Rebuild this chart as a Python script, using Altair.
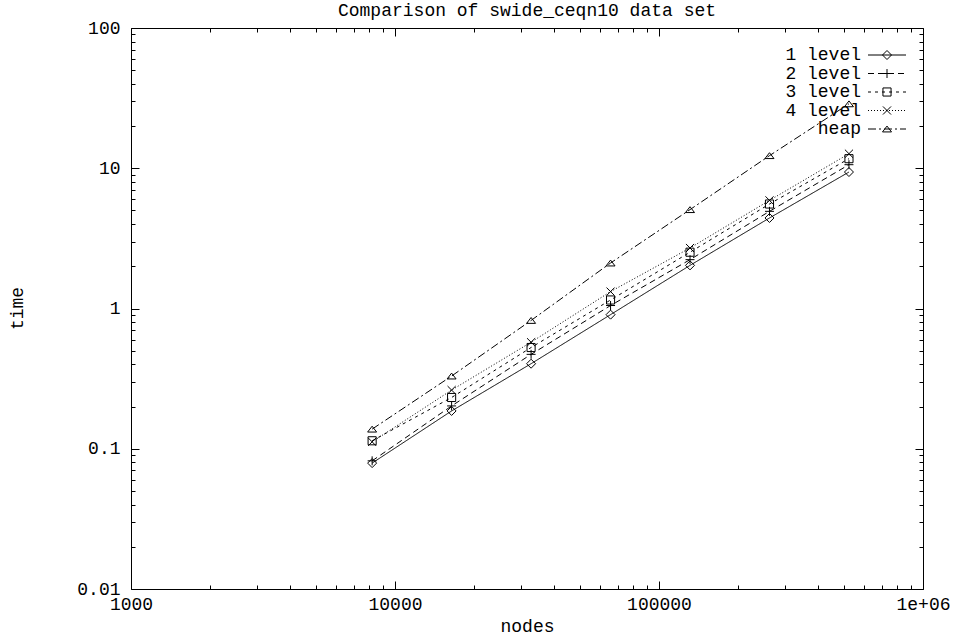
import altair as alt
import pandas as pd

# ---------------- data ----------------
nodes = [8192, 16384, 32768, 65536, 131072, 262144, 524288]
level1 = [0.079, 0.186, 0.404, 0.904, 2.03, 4.42, 9.40]
level2 = [0.082, 0.202, 0.471, 1.05, 2.23, 4.93, 10.6]
level3 = [0.114, 0.232, 0.527, 1.15, 2.52, 5.56, 11.7]
level4 = [0.112, 0.262, 0.575, 1.32, 2.70, 5.90, 12.7]
heap = [0.138, 0.330, 0.822, 2.11, 5.07, 12.3, 28.8]

series_names = ["1 level", "2 level", "3 level", "4 level", "heap"]
series_values = [level1, level2, level3, level4, heap]

x_major = [1000, 10000, 100000, 1000000]
y_major = [0.01, 0.1, 1, 10, 100]
x_minor = [k * 10 ** e for e in (3, 4, 5) for k in range(2, 10)]
y_minor = [k * 10.0 ** e for e in (-2, -1, 0, 1) for k in range(2, 10)]

rows = []
for name, vals in zip(series_names, series_values):
    for n, t in zip(nodes, vals):
        rows.append({"series": name, "nodes": n, "time": t})
df = pd.DataFrame(rows)
legend_df = pd.DataFrame({"series": series_names})

# ---------------- styles ----------------
FONT = "Liberation Mono"
FS = 18
dash_range = [[1, 0], [6, 4], [3, 4], [1, 2], [8, 3, 2, 3]]
shape_range = [
    "M0,-1L1,0L0,1L-1,0Z",
    "M-1,0L1,0M0,-1L0,1",
    "M-0.9,-0.9L0.9,-0.9L0.9,0.9L-0.9,0.9Z",
    "M-0.9,-0.9L0.9,0.9M-0.9,0.9L0.9,-0.9",
    "M0,-0.65L1,0.65L-1,0.65Z",
]
dash_scale = alt.Scale(domain=series_names, range=dash_range)
shape_scale = alt.Scale(domain=series_names, range=shape_range)


def xenc(axis):
    return alt.X("nodes:Q", scale=alt.Scale(type="log", domain=[1000, 1000000], nice=False), axis=axis)


def yenc(axis):
    return alt.Y("time:Q", scale=alt.Scale(type="log", domain=[0.01, 100], nice=False), axis=axis)


def tick_axis(orient, size, values):
    return alt.Axis(orient=orient, values=values, offset=-size, tickSize=size, ticks=True,
                    labels=False, domain=False, grid=False, title=None,
                    tickColor="black", tickWidth=1)


x_label_axis = alt.Axis(
    orient="bottom", values=x_major, ticks=False, tickSize=0, domain=False, grid=False,
    labelExpr="datum.value >= 1000000 ? '1e+06' : format(datum.value, 'd')",
    labelFont=FONT, labelFontSize=FS, labelColor="black", labelPadding=6,
    labelFlush=False, labelOverlap=False,
    title="nodes", titleFont=FONT, titleFontSize=FS, titleFontWeight="normal",
    titleColor="black", titleY=37, titleBaseline="middle",
)
y_label_axis = alt.Axis(
    orient="left", values=y_major, ticks=False, tickSize=0, domain=False, grid=False,
    labelExpr="format(datum.value, '~g')",
    labelFont=FONT, labelFontSize=FS, labelColor="black", labelPadding=11,
    labelFlush=False, labelOverlap=False,
    title="time", titleFont=FONT, titleFontSize=FS, titleFontWeight="normal",
    titleColor="black", titleX=-114, titleY=280, titleAngle=270,
    titleBaseline="middle", titleAlign="center",
)

base = alt.Chart(df)

lines = base.mark_line(color="black", strokeWidth=1).encode(
    x=xenc(x_label_axis),
    y=yenc(y_label_axis),
    strokeDash=alt.StrokeDash("series:N", scale=dash_scale, legend=None),
)

points = base.mark_point(filled=False, color="black", size=81, strokeWidth=1, opacity=1).encode(
    x=xenc(None),
    y=yenc(None),
    shape=alt.Shape("series:N", scale=shape_scale, legend=None),
)

t_bl_major = base.mark_point(opacity=0).encode(
    x=xenc(tick_axis("bottom", 8, x_major)), y=yenc(tick_axis("left", 8, y_major)))
t_bl_minor = base.mark_point(opacity=0).encode(
    x=xenc(tick_axis("bottom", 4, x_minor)), y=yenc(tick_axis("left", 4, y_minor)))
t_tr_major = base.mark_point(opacity=0).encode(
    x=xenc(tick_axis("top", 8, x_major)), y=yenc(tick_axis("right", 8, y_major)))
t_tr_minor = base.mark_point(opacity=0).encode(
    x=xenc(tick_axis("top", 4, x_minor)), y=yenc(tick_axis("right", 4, y_minor)))

legend_y = alt.Y("series:N", scale=alt.Scale(type="point", domain=series_names, range=[27, 101], padding=0), axis=None)
lbase = alt.Chart(legend_df)
leg_text = lbase.mark_text(align="right", baseline="middle", font=FONT, fontSize=FS, color="black").encode(
    x=alt.value(730), y=legend_y, text="series:N")
leg_rule = lbase.mark_rule(color="black", strokeWidth=1).encode(
    x=alt.value(737), x2=alt.value(775), y=legend_y,
    strokeDash=alt.StrokeDash("series:N", scale=dash_scale, legend=None))
leg_pts = lbase.mark_point(filled=False, color="black", size=81, strokeWidth=1, opacity=1).encode(
    x=alt.value(756), y=legend_y,
    shape=alt.Shape("series:N", scale=shape_scale, legend=None))

chart = alt.layer(
    lines, points, t_bl_major, t_bl_minor, t_tr_major, t_tr_minor, leg_text, leg_rule, leg_pts
).resolve_scale(
    x="independent", y="independent"
).resolve_axis(
    x="independent", y="independent"
).properties(
    width=792, height=561,
    autosize=alt.AutoSizeParams(type="none"),
    padding={"left": 131, "top": 28, "right": 34, "bottom": 51},
    title=alt.TitleParams("Comparison of swide_ceqn10 data set", font=FONT, fontSize=FS,
                          fontWeight="normal", color="black", anchor="middle",
                          baseline="alphabetic", offset=1, dy=16),
    background="white",
).configure_view(stroke="black", strokeWidth=1)

chart.save("out.html", embed_options={"renderer": "svg", "actions": False})
